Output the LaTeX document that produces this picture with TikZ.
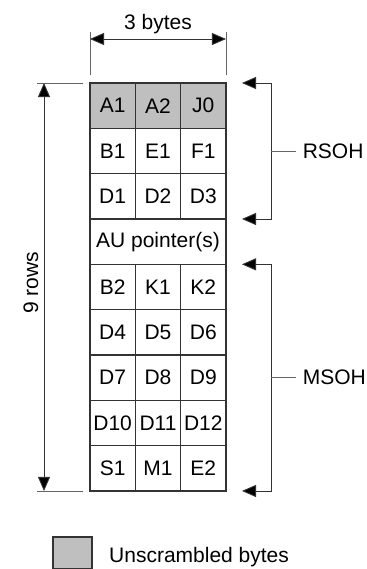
\documentclass[tikz,border=0pt]{standalone}
\usepackage{fontspec}
\setmainfont{Liberation Sans}
\usetikzlibrary{arrows.meta, positioning, calc}

\begin{document}
\begin{tikzpicture}[
  x=1pt, y=1pt,
  txt/.style = {text=black, font=\fontsize{21}{24}\selectfont},
  cell/.style = {txt, draw=black!80, line width=1.1pt, minimum width=45.33pt, minimum height=45.33pt, inner sep=0pt, outer sep=0pt},
  shaded/.style = {cell, fill=black!25},
  arrow/.style = {line width=0.9pt, black!80, >={Triangle[length=14pt, width=12pt, fill=black]}, <->},
  dimline/.style = {line width=0.9pt, black!60}
]
  \useasboundingbox (0,0) rectangle (366,-569);

  % Unscrambled first row
  \node[shaded] (A1) at (112.67,-105.67) {A1};
  \node[shaded, right=0pt of A1] (A2) {A2};
  \node[shaded, right=0pt of A2] (J0) {J0};

  % Remaining byte rows
  \foreach \r/\a/\b/\c in {2/B1/E1/F1, 3/D1/D2/D3, 5/B2/K1/K2, 6/D4/D5/D6,
                           7/D7/D8/D9, 8/D10/D11/D12, 9/S1/M1/E2} {
    \node[cell] (\a) at (112.67, {-83-45.33*(\r-0.5)}) {\a};
    \node[cell, right=0pt of \a] (\b) {\b};
    \node[cell, right=0pt of \b] (\c) {\c};
  }

  % Pointer row across all columns
  \node[cell, minimum width=136pt] (AU) at (158,-241.67) {AU pointer(s)};

  % Width dimension
  \coordinate (bytes_l) at ($(A1.north west)+(0,44)$);
  \coordinate (bytes_r) at ($(J0.north east)+(0,44)$);
  \draw[dimline] ($(A1.north west)+(0,8)$) -- ++(0,43);
  \draw[dimline] ($(J0.north east)+(0,8)$) -- ++(0,43);
  \draw[arrow] (bytes_l) -- node[txt, above=1pt] (bytes_lbl) {3 bytes} (bytes_r);

  % Height dimension
  \coordinate (rows_t) at ($(A1.north west)+(-46,0)$);
  \coordinate (rows_b) at ($(S1.south west)+(-46,0)$);
  \draw[dimline] ($(A1.north west)+(-7,0)$) -- ++(-46,0);
  \draw[dimline] ($(S1.south west)+(-7,0)$) -- ++(-46,0);
  \draw[arrow] (rows_t) -- (rows_b);
  \node[txt, rotate=90] (rows_lbl) at (31,-283) {9 rows};

  % RSOH bracket
  \coordinate (rs_top) at ($(J0.north east)+(16,0)$);
  \coordinate (rs_bot) at ($(D3.south east)+(16,0)$);
  \coordinate (rs_mid) at ($(J0.north east)!0.5!(D3.south east)+(45,0)$);
  \draw[arrow] (rs_top) -- ++(29,0) |- (rs_bot);
  \draw[dimline] (rs_mid) -- ++(25,0) node[txt, right=3pt] (rsoh) {RSOH};

  % MSOH bracket
  \coordinate (ms_top) at ($(K2.north east)+(16,0)$);
  \coordinate (ms_bot) at ($(E2.south east)+(16,0)$);
  \coordinate (ms_mid) at ($(K2.north east)!0.5!(E2.south east)+(45,0)$);
  \draw[arrow] (ms_top) -- ++(29,0) |- (ms_bot);
  \draw[dimline] (ms_mid) -- ++(25,0) node[txt, right=3pt] (msoh) {MSOH};

  % Legend
  \node[shaded, minimum width=39pt, minimum height=32pt] (key) at (72.5,-553) {};
  \node[txt, anchor=west, inner sep=0pt] (key_lbl) at (109,-557) {Unscrambled bytes};

\end{tikzpicture}
\end{document}
